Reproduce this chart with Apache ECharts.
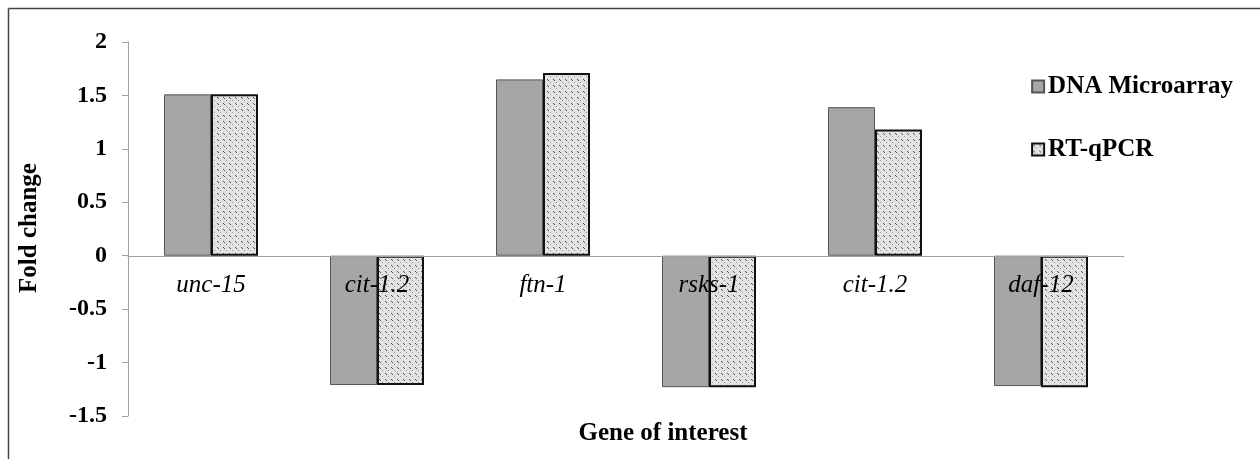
<!DOCTYPE html>
<html>
<head>
<meta charset="utf-8">
<script src="https://cdn.jsdelivr.net/npm/echarts@6/dist/echarts.min.js"></script>
<style>
  html, body { margin: 0; padding: 0; background: #fff; }
  #chart { width: 1260px; height: 459px; }
</style>
</head>
<body>
<div id="chart"></div>
<script>
// 基因名称
const genes = ['unc-15', 'cit-1.2', 'ftn-1', 'rsks-1', 'cit-1.2', 'daf-12']
// 芯片数据
const microarray = [1.51, -1.21, 1.65, -1.23, 1.39, -1.22]
// 定量PCR数据
const rtqpcr = [1.51, -1.21, 1.71, -1.23, 1.18, -1.23]
// y轴刻度
const yTicks = [-1.5, -1, -0.5, 0, 0.5, 1, 1.5, 2]

const serif = '"Liberation Serif", "Times New Roman", serif'

// 点状填充
const makeDots = () => {
  const c = document.createElement('canvas')
  c.width = 6
  c.height = 6
  const ctx = c.getContext('2d')
  ctx.fillStyle = '#e2e2e2'
  ctx.fillRect(0, 0, 6, 6)
  ctx.fillStyle = '#555'
  ctx.fillRect(1, 1, 1, 1)
  ctx.fillRect(2, 2, 1, 1)
  ctx.fillStyle = '#999'
  ctx.fillRect(4, 4, 1, 1)
  return c
}

const chart = echarts.init(document.getElementById('chart'))

chart.setOption({
  animation: false,
  backgroundColor: '#fff',
  grid: { left: 128, right: 136, top: 42, bottom: 43 },
  legend: {
    orient: 'vertical',
    right: 22,
    top: 69,
    itemGap: 38,
    itemWidth: 12,
    itemHeight: 12,
    icon: 'rect',
    textStyle: { fontFamily: serif, fontWeight: 'bold', fontSize: 25, color: '#000', padding: [0, 0, 0, -1] }
  },
  xAxis: {
    type: 'category',
    data: genes,
    offset: -160,
    z: 10,
    axisLine: { onZero: false, lineStyle: { color: '#a0a0a0' } },
    axisTick: { lineStyle: { color: '#a0a0a0' }, length: 6 },
    axisLabel: { fontFamily: serif, fontStyle: 'italic', fontSize: 25, color: '#000', margin: 17 }
  },
  yAxis: {
    type: 'value',
    min: -1.5,
    max: 2,
    interval: 0.5,
    splitLine: { show: false },
    axisLine: { show: true, lineStyle: { color: '#a0a0a0' } },
    axisTick: { show: true, lineStyle: { color: '#a0a0a0' }, length: 6 },
    axisLabel: {
      fontFamily: serif, fontWeight: 'bold', fontSize: 24, color: '#000', margin: 21,
      formatter: v => yTicks.includes(v) ? String(v) : ''
    }
  },
  series: [
    {
      name: 'DNA Microarray',
      type: 'bar',
      data: microarray,
      barWidth: 47,
      barGap: '0%',
      itemStyle: { color: '#a6a6a6', borderColor: '#555', borderWidth: 1 }
    },
    {
      name: 'RT-qPCR',
      type: 'bar',
      data: rtqpcr,
      barWidth: 47,
      itemStyle: { color: { image: makeDots(), repeat: 'repeat' }, borderColor: '#111', borderWidth: 2 }
    }
  ],
  graphic: [
    { type: 'line', shape: { x1: 8.5, y1: 8.5, x2: 1260, y2: 8.5 }, style: { stroke: '#444', lineWidth: 1.5 } },
    { type: 'line', shape: { x1: 8.5, y1: 8.5, x2: 8.5, y2: 459 }, style: { stroke: '#444', lineWidth: 1.5 } },
    {
      type: 'text', x: 30, y: 228, rotation: Math.PI / 2,
      style: { text: 'Fold change', font: 'bold 25px ' + serif, fill: '#000', align: 'center', verticalAlign: 'middle' }
    },
    {
      type: 'text', x: 663, y: 434,
      style: { text: 'Gene of interest', font: 'bold 25px ' + serif, fill: '#000', align: 'center', verticalAlign: 'middle' }
    }
  ]
})
</script>
</body>
</html>
